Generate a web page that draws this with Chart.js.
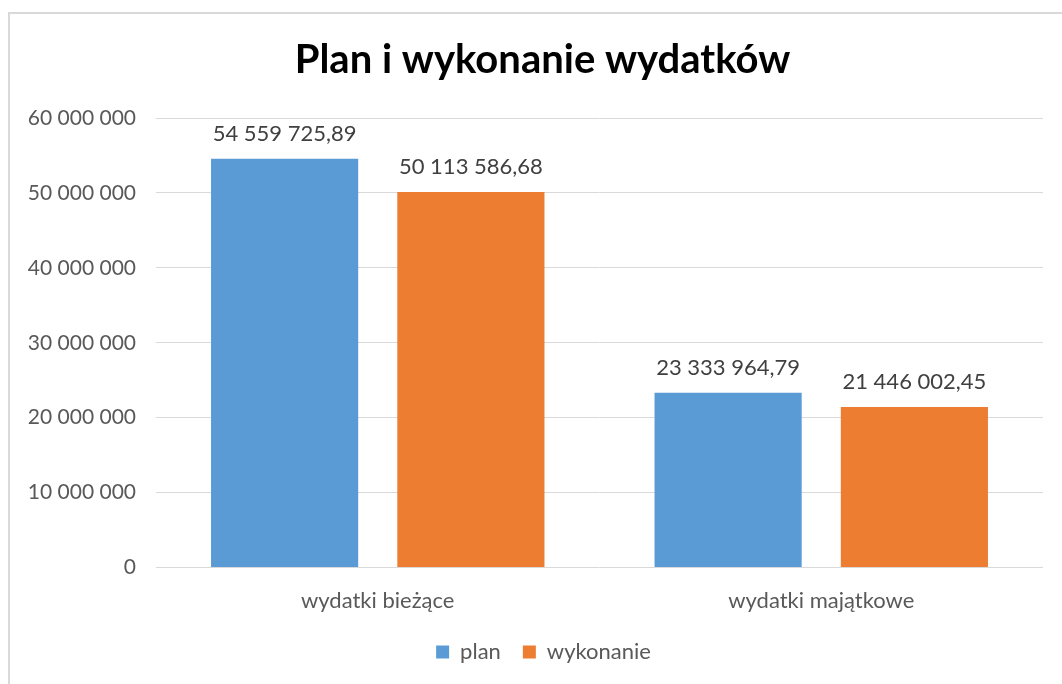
<!DOCTYPE html>
<html lang="pl">
<head>
<meta charset="utf-8">
<title>Plan i wykonanie wydatków</title>
<script src="https://cdn.jsdelivr.net/npm/chart.js@4.4.1/dist/chart.umd.min.js"></script>
<style>
    html, body { margin: 0; padding: 0; background: #fff; overflow: hidden; }
    #frame {
        position: absolute;
        left: 8px;
        top: 12px;
        width: 1066px;
        height: 700px;
        border: 2px solid #d9d9d9;
        background: #fff;
    }
    #chart { display: block; }
</style>
</head>
<body>
<div id="frame">
    <canvas id="chart" width="1066" height="670"></canvas>
</div>
<script>
// dane wykresu
const categories = ['wydatki bieżące', 'wydatki majątkowe'];
const planValues = [54559725.89, 23333964.79];
const doneValues = [50113586.68, 21446002.45];
const seriesNames = ['plan', 'wykonanie'];
const yTicks = [0, 10000000, 20000000, 30000000, 40000000, 50000000, 60000000];

// formatowanie liczb po polsku: spacja jako separator tysięcy, przecinek dziesiętny
function fmt(v, dec) {
    const parts = v.toFixed(dec).split('.');
    const whole = parts[0].replace(/\B(?=(\d{3})+(?!\d))/g, ' ');
    return parts.length > 1 ? whole + ',' + parts[1] : whole;
}

// etykiety wartości nad słupkami
const valueLabels = {
    id: 'valueLabels',
    afterDatasetsDraw(chart) {
        const ctx = chart.ctx;
        ctx.save();
        ctx.font = '22px Lato, "Open Sans", sans-serif';
        ctx.fillStyle = '#404040';
        ctx.textAlign = 'center';
        ctx.textBaseline = 'middle';
        chart.data.datasets.forEach((ds, i) => {
            chart.getDatasetMeta(i).data.forEach((bar, j) => {
                ctx.fillText(fmt(ds.data[j], 2), bar.x, bar.y - 25);
            });
        });
        ctx.restore();
    }
};

// tytuł i legenda wyśrodkowane na całej szerokości ramki, nie obszaru z marginesami
const centerBlocks = {
    id: 'centerBlocks',
    afterLayout(chart) {
        chart.titleBlock.left += 11;
        chart.titleBlock.right += 11;
        chart.legend.left += 12;
        chart.legend.right += 12;
    }
};

Chart.defaults.font.family = 'Lato, "Open Sans", sans-serif';
Chart.defaults.color = '#595959';

new Chart(document.getElementById('chart').getContext('2d'), {
    type: 'bar',
    data: {
        labels: categories,
        datasets: [
            {
                label: seriesNames[0],
                data: planValues,
                backgroundColor: '#5b9bd5',
                categoryPercentage: 0.84,
                barPercentage: 0.79
            },
            {
                label: seriesNames[1],
                data: doneValues,
                backgroundColor: '#ed7d31',
                categoryPercentage: 0.84,
                barPercentage: 0.79
            }
        ]
    },
    options: {
        responsive: false,
        animation: false,
        layout: { padding: { left: 10, right: 33, top: 10, bottom: 11 } },
        plugins: {
            title: {
                display: true,
                text: 'Plan i wykonanie wydatków',
                color: '#000',
                font: { size: 40, weight: 'bold' },
                padding: { top: 12, bottom: 34 }
            },
            legend: {
                position: 'bottom',
                labels: {
                    boxWidth: 13,
                    boxHeight: 13,
                    font: { size: 22 },
                    color: '#595959',
                    padding: 22
                }
            },
            tooltip: { enabled: false }
        },
        scales: {
            x: {
                afterFit(scale) { scale.height -= 15; },
                grid: { display: false, drawTicks: false },
                border: { display: false },
                ticks: { font: { size: 22 }, color: '#595959', padding: 20 }
            },
            y: {
                min: 0,
                max: 60000000,
                afterFit(scale) { scale.width = 136; },
                afterBuildTicks(scale) { scale.ticks = yTicks.map(v => ({ value: v })); },
                grid: { color: '#d9d9d9', lineWidth: 1, drawTicks: false },
                border: { display: false },
                ticks: {
                    font: { size: 21 },
                    color: '#595959',
                    padding: 20,
                    callback: v => fmt(v, 0)
                }
            }
        }
    },
    plugins: [valueLabels, centerBlocks]
});
</script>
</body>
</html>
